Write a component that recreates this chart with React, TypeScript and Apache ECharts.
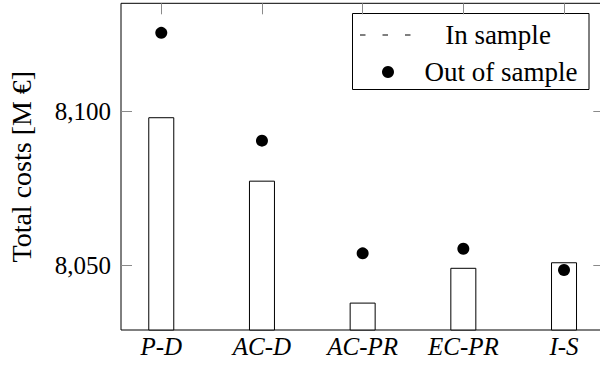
import React, { useEffect, useRef } from "react";
import * as echarts from "echarts";

const categories = ["P-D", "AC-D", "AC-PR", "EC-PR", "I-S"];
const inSample = [8098.2, 8077.6, 8038.0, 8049.3, 8051.1];
const outOfSample = [8125.6, 8090.6, 8054.0, 8055.5, 8048.6];
const yTicks = [8050, 8100];
const yMin = 8029.1;
const yMax = 8135.2;
const xPositions = [0, 1, 2, 3, 4];
const legendLabels = ["In sample", "Out of sample"];
const yAxisTitle = "Total costs [M \u20AC]";

const FONT = "Times New Roman";

export default function App() {
  const ref = useRef<HTMLDivElement>(null);
  useEffect(() => {
    if (!ref.current) return;
    const chart = echarts.init(ref.current, null, { renderer: "svg" });
    const tickStyle = { color: "#8a8a8a", width: 1 };
    const xBase = {
      type: "value" as const,
      min: -0.4,
      max: 4.4,
      axisLine: { show: false, onZero: false },
      splitLine: { show: false },
      axisTick: { show: true, inside: true, length: 11, customValues: xPositions, lineStyle: tickStyle },
    };
    const yBase = {
      type: "value" as const,
      min: yMin,
      max: yMax,
      axisLine: { show: false, onZero: false },
      splitLine: { show: false },
      axisTick: { show: true, inside: true, length: 11, customValues: yTicks, lineStyle: tickStyle },
    };
    chart.setOption({
      animation: false,
      textStyle: { fontFamily: FONT },
      grid: {
        show: true,
        borderColor: "#000",
        borderWidth: 1,
        left: 121,
        top: 3.3,
        right: -4.3,
        bottom: 36,
        containLabel: false,
        outerBoundsMode: "none",
      },
      xAxis: [
        {
          ...xBase,
          position: "bottom",
          axisLabel: {
            customValues: xPositions,
            formatter: (v: number) => categories[Math.round(v)],
            fontFamily: FONT,
            fontStyle: "italic",
            fontSize: 25,
            color: "#000",
            margin: 4,
          },
        },
        { ...xBase, position: "top", axisLabel: { show: false } },
      ],
      yAxis: [
        {
          ...yBase,
          position: "left",
          name: yAxisTitle,
          nameLocation: "middle",
          nameGap: 86,
          nameTextStyle: { fontFamily: FONT, fontSize: 28, color: "#000" },
          axisLabel: {
            customValues: yTicks,
            formatter: (v: number) => v.toLocaleString("en-US"),
            fontFamily: FONT,
            fontSize: 25,
            color: "#000",
            margin: 10,
          },
        },
        { ...yBase, position: "right", axisLabel: { show: false } },
      ],
      series: [
        {
          name: legendLabels[0],
          type: "bar",
          xAxisIndex: 0,
          yAxisIndex: 0,
          barWidth: 26,
          data: inSample.map((v, i) => [xPositions[i], v]),
          itemStyle: { color: "#fff", borderColor: "#000", borderWidth: 1 },
        },
        {
          name: legendLabels[1],
          type: "scatter",
          xAxisIndex: 0,
          yAxisIndex: 0,
          symbol: "circle",
          symbolSize: 12,
          data: outOfSample.map((v, i) => [xPositions[i], v]),
          itemStyle: { color: "#000", opacity: 1 },
          z: 5,
        },
      ],
      graphic: [
        {
          type: "group",
          z: 100,
          children: [
            {
              type: "rect",
              shape: { x: 352.5, y: 13.5, width: 236.5, height: 76 },
              style: { fill: "#fff", stroke: "#000", lineWidth: 1 },
            },
            {
              type: "line",
              shape: { x1: 360, y1: 35, x2: 412, y2: 35 },
              style: { stroke: "#000", lineWidth: 1, lineDash: [5.5, 17] },
            },
            {
              type: "circle",
              shape: { cx: 388, cy: 72, r: 6 },
              style: { fill: "#000" },
            },
            {
              type: "text",
              x: 498,
              y: 35,
              style: {
                text: legendLabels[0],
                fontFamily: FONT,
                fontSize: 27,
                fill: "#000",
                align: "center",
                verticalAlign: "middle",
              },
            },
            {
              type: "text",
              x: 501,
              y: 72,
              style: {
                text: legendLabels[1],
                fontFamily: FONT,
                fontSize: 27,
                fill: "#000",
                align: "center",
                verticalAlign: "middle",
              },
            },
          ],
        },
      ],
    });
    return () => chart.dispose();
  }, []);
  return (
    <div
      ref={ref}
      style={{ position: "absolute", left: 0, top: 0, width: 600, height: 366, overflow: "hidden" }}
    />
  );
}
